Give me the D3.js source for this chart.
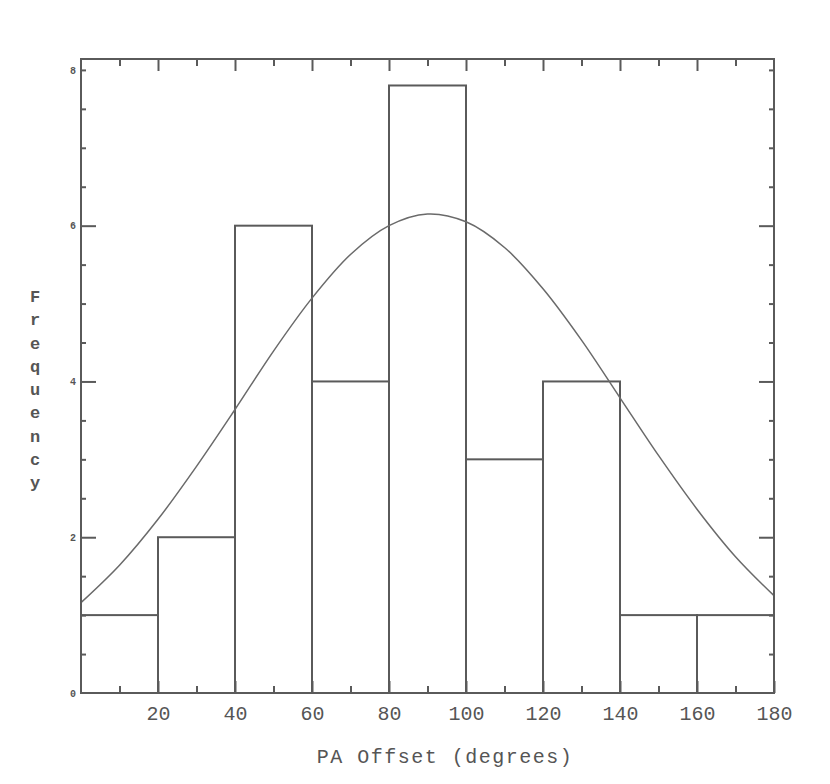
<!DOCTYPE html>
<html>
<head>
<meta charset="utf-8">
<script src="https://cdn.jsdelivr.net/npm/d3@7"></script>
<style>
  body { margin: 0; background: #fff; }
  .tick text { font-family: "Liberation Mono", "DejaVu Sans Mono", monospace; fill: #555; }
</style>
</head>
<body>
<div id="chart"></div>
<script>
// histogram bins (degrees) and their frequencies
var binEdges = [0, 20, 40, 60, 80, 100, 120, 140, 160, 180];
var counts = [1, 2, 6, 4, 7.8, 3, 4, 1, 1];

// fitted curve, every 10 degrees
var curveX = [0, 10, 20, 30, 40, 50, 60, 70, 80, 90, 100, 110, 120, 130, 140, 150, 160, 170, 180];
var curveY = [1.16, 1.64, 2.23, 2.91, 3.64, 4.39, 5.07, 5.63, 6.0, 6.15, 6.05, 5.72, 5.19, 4.53, 3.79, 3.05, 2.36, 1.75, 1.25];

// tick labels
var xTickLabels = [20, 40, 60, 80, 100, 120, 140, 160, 180];
var yTickLabels = [0, 2, 4, 6, 8];

var svgWidth = 830;
var svgHeight = 784;
var margin = { top: 59, right: 56, bottom: 91, left: 81 };
var width = svgWidth - margin.left - margin.right;
var height = svgHeight - margin.top - margin.bottom;
var ink = "#5a5a5a";

var svg = d3.select("#chart")
    .append("svg")
    .attr("width", svgWidth)
    .attr("height", svgHeight);

var chartGroup = svg.append("g")
    .attr("transform", `translate(${margin.left}, ${margin.top})`);

var xScale = d3.scaleLinear().domain([0, 180]).range([0, width]);
var yScale = d3.scaleLinear().domain([0, 8.14]).range([height, 0]);

// bars
chartGroup.append("g")
    .selectAll("rect")
    .data(counts)
    .enter()
    .append("rect")
    .attr("x", (d, i) => xScale(binEdges[i]))
    .attr("y", d => yScale(d))
    .attr("width", (d, i) => xScale(binEdges[i + 1]) - xScale(binEdges[i]))
    .attr("height", d => yScale(0) - yScale(d))
    .attr("fill", "none")
    .attr("stroke", ink)
    .attr("stroke-width", 2);

// curve
var line = d3.line()
    .x(d => xScale(d[0]))
    .y(d => yScale(d[1]))
    .curve(d3.curveCatmullRom);

chartGroup.append("path")
    .datum(d3.zip(curveX, curveY))
    .attr("d", line)
    .attr("fill", "none")
    .attr("stroke", "#6a6a6a")
    .attr("stroke-width", 1.5);

// axes: minor and major ticks pointing inward on all four sides
var minorX = d3.range(10, 180, 20);
var majorY = [2, 4, 6];
var minorY = d3.range(0.5, 8.1, 0.5).filter(v => majorY.indexOf(v) < 0);

function styleAxis(g) {
    g.select(".domain").remove();
    g.selectAll(".tick line").attr("stroke", ink).attr("stroke-width", 2);
}

chartGroup.append("g")
    .attr("transform", `translate(0, ${height})`)
    .call(d3.axisBottom(xScale).tickValues(minorX).tickSize(-7).tickFormat(""))
    .call(styleAxis);

chartGroup.append("g")
    .attr("transform", `translate(0, ${height})`)
    .call(d3.axisBottom(xScale).tickValues(xTickLabels).tickSize(-12).tickPadding(13).tickFormat(d3.format("d")))
    .call(styleAxis)
    .selectAll("text")
    .attr("font-size", 20);

chartGroup.append("g")
    .call(d3.axisTop(xScale).tickValues(minorX).tickSize(-7).tickFormat(""))
    .call(styleAxis);

chartGroup.append("g")
    .call(d3.axisTop(xScale).tickValues(xTickLabels.slice(0, -1)).tickSize(-12).tickFormat(""))
    .call(styleAxis);

chartGroup.append("g")
    .call(d3.axisLeft(yScale).tickValues(minorY).tickSize(-5).tickFormat(""))
    .call(styleAxis);

chartGroup.append("g")
    .call(d3.axisLeft(yScale).tickValues(majorY).tickSize(-15).tickFormat(""))
    .call(styleAxis);

chartGroup.append("g")
    .call(d3.axisLeft(yScale).tickValues(yTickLabels).tickSize(0).tickPadding(5).tickFormat(d3.format("d")))
    .call(styleAxis)
    .selectAll("text")
    .attr("font-size", 10)
    .attr("font-weight", "bold");

chartGroup.append("g")
    .attr("transform", `translate(${width}, 0)`)
    .call(d3.axisRight(yScale).tickValues(minorY).tickSize(-5).tickFormat(""))
    .call(styleAxis);

chartGroup.append("g")
    .attr("transform", `translate(${width}, 0)`)
    .call(d3.axisRight(yScale).tickValues(majorY).tickSize(-15).tickFormat(""))
    .call(styleAxis);

// frame
chartGroup.append("rect")
    .attr("width", width)
    .attr("height", height)
    .attr("fill", "none")
    .attr("stroke", ink)
    .attr("stroke-width", 2);

// axis titles
chartGroup.append("text")
    .attr("x", 364)
    .attr("y", height + 70)
    .attr("text-anchor", "middle")
    .attr("font-family", "Liberation Mono, monospace")
    .attr("font-size", 20)
    .attr("letter-spacing", 1.5)
    .attr("fill", "#555")
    .text("PA Offset (degrees)");

var yTitle = "Frequency".split("");
chartGroup.append("g")
    .selectAll("text")
    .data(yTitle)
    .enter()
    .append("text")
    .attr("x", 35 - margin.left)
    .attr("y", (d, i) => 296 - margin.top + i * 23.3)
    .attr("dy", "0.35em")
    .attr("text-anchor", "middle")
    .attr("font-family", "Liberation Mono, monospace")
    .attr("font-size", 17)
    .attr("font-weight", "bold")
    .attr("fill", "#555")
    .text(d => d);
</script>
</body>
</html>
